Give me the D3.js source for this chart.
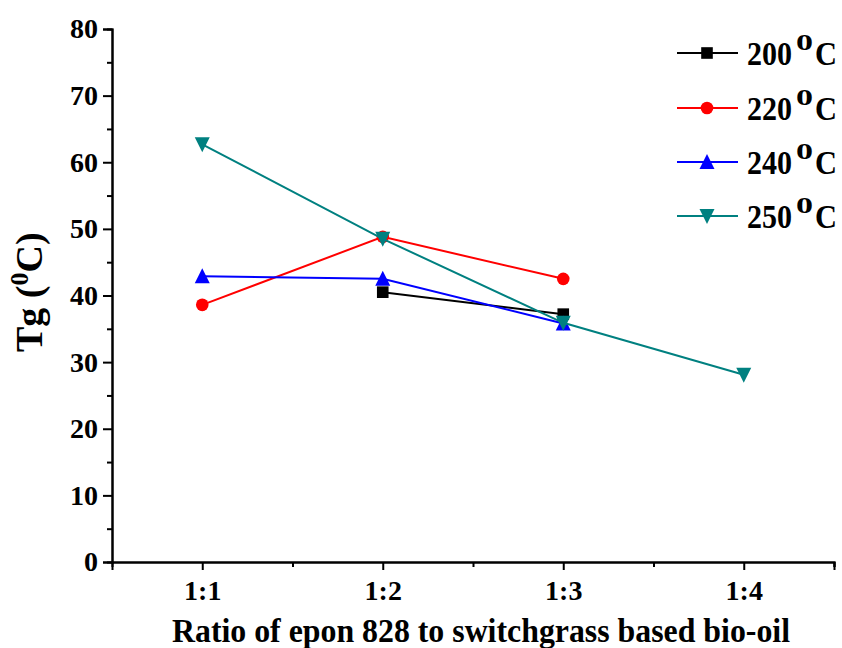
<!DOCTYPE html>
<html>
<head>
<meta charset="utf-8">
<script src="https://cdn.jsdelivr.net/npm/d3@7"></script>
<style>
  html, body { margin: 0; padding: 0; background: #fff; }
  svg text { font-family: "Liberation Serif", "Times New Roman", serif; font-weight: bold; }
</style>
</head>
<body>
<svg id="chart" width="842" height="648"></svg>
<script>
// Ratio categories (epon 828 : bio-oil) and their positions on the x axis
const ratios = ["1:1", "1:2", "1:3", "1:4"];
const ratioPos = [1, 2, 3, 4];

// Tg (°C) for each bio-oil production temperature; null = not measured
const tg200 = [null, 40.5, 37.2, null];
const tg220 = [38.6, 48.8, 42.5, null];
const tg240 = [42.9, 42.5, 35.8, null];
const tg250 = [62.7, 48.5, 35.9, 28.1];

const seriesNames = ["200", "220", "240", "250"];
const seriesColors = ["#000000", "#ff0000", "#0000ff", "#008080"];
const seriesSymbols = ["square", "circle", "up", "down"];

const yTicks = [0, 10, 20, 30, 40, 50, 60, 70, 80];

const series = [tg200, tg220, tg240, tg250].map((vals, i) => ({
  name: seriesNames[i],
  color: seriesColors[i],
  symbol: seriesSymbols[i],
  points: vals.map((v, j) => ({ x: ratioPos[j], y: v })).filter(p => p.y !== null)
}));

const svg = d3.select("#chart");
const plotLeft = 112, plotRight = 834, plotTop = 29, plotBottom = 562;

const x = d3.scaleLinear().domain([0.5, 4.5]).range([plotLeft, plotRight]);
const y = d3.scaleLinear().domain([0, 80]).range([plotBottom, plotTop]);

// Axes: outward major ticks with labels, minor ticks between
const xAxis = d3.axisBottom(x).tickValues(ratioPos).tickFormat((d, i) => ratios[i]).tickSize(8).tickPadding(10);
const xMinor = d3.axisBottom(x).tickValues([1.5, 2.5, 3.5, 4.5]).tickFormat("").tickSize(5);
const yAxis = d3.axisLeft(y).tickValues(yTicks).tickSize(9).tickPadding(5);
const yMinor = d3.axisLeft(y).tickValues(d3.range(5, 80, 10)).tickFormat("").tickSize(5);

function styleAxis(g, size) {
  g.select(".domain").attr("stroke", "#000").attr("stroke-width", 2);
  g.selectAll(".tick line").attr("stroke", "#000").attr("stroke-width", 2);
  g.selectAll(".tick text").attr("fill", "#000")
    .style("font-size", size + "px").style("font-family", "'Liberation Serif', serif").style("font-weight", "bold");
}

svg.append("g").attr("transform", `translate(0,${plotBottom})`).call(xMinor).call(styleAxis, 28);
svg.append("g").attr("transform", `translate(0,${plotBottom})`).call(xAxis).call(styleAxis, 28);
svg.append("g").attr("transform", `translate(${plotLeft},0)`).call(yMinor).call(styleAxis, 28);
svg.append("g").attr("transform", `translate(${plotLeft},0)`).call(yAxis).call(styleAxis, 28);

// Axis titles
svg.append("text")
  .attr("x", 172).attr("y", 642)
  .attr("textLength", 618).attr("lengthAdjust", "spacingAndGlyphs")
  .style("font-size", "33px")
  .text("Ratio of epon 828 to switchgrass based bio-oil");

const yTitle = svg.append("text")
  .attr("transform", `translate(42,352) rotate(-90)`)
  .attr("text-anchor", "start")
  .style("font-size", "38px");
yTitle.append("tspan").text("Tg (");
yTitle.append("tspan").attr("dy", -14).style("font-size", "26px").text("0");
yTitle.append("tspan").attr("dy", 14).text("C)");

// Marker shapes
function markerPath(sym) {
  if (sym === "down") return "M-7.5,-7L7.5,-7L0,8Z";
  if (sym === "up") return "M0,-8L7.5,7L-7.5,7Z";
  if (sym === "circle") return d3.symbol(d3.symbolCircle, 125)();
  return d3.symbol(d3.symbolSquare, 135)();
}

const line = d3.line().x(d => x(d.x)).y(d => y(d.y));

const sg = svg.selectAll("g.series").data(series).join("g").attr("class", "series");
sg.append("path")
  .attr("d", d => line(d.points))
  .attr("fill", "none")
  .attr("stroke", d => d.color)
  .attr("stroke-width", 2);
sg.each(function (s) {
  d3.select(this).selectAll("path.mk").data(s.points).join("path")
    .attr("class", "mk")
    .attr("transform", d => `translate(${x(d.x)},${y(d.y)})`)
    .attr("d", markerPath(s.symbol))
    .attr("fill", s.color);
});

// Legend
const legendRows = [53, 108, 162, 216];
const lg = svg.selectAll("g.legend").data(series).join("g").attr("class", "legend")
  .attr("transform", (d, i) => `translate(0,${legendRows[i]})`);
lg.append("line").attr("x1", 677).attr("x2", 738).attr("y1", 0).attr("y2", 0)
  .attr("stroke", d => d.color).attr("stroke-width", 2);
lg.append("path").attr("transform", "translate(707,0)")
  .attr("d", d => markerPath(d.symbol)).attr("fill", d => d.color);
const lt = lg.append("text").attr("y", 12).style("font-size", "33px");
lt.append("tspan").attr("x", 747).attr("textLength", 45).attr("lengthAdjust", "spacingAndGlyphs").text(d => d.name);
lt.append("tspan").attr("x", 796).attr("dy", -15).style("font-size", "24px")
  .attr("textLength", 17).attr("lengthAdjust", "spacingAndGlyphs").text("0");
lt.append("tspan").attr("x", 815).attr("dy", 15).attr("textLength", 22).attr("lengthAdjust", "spacingAndGlyphs").text("C");
</script>
</body>
</html>
